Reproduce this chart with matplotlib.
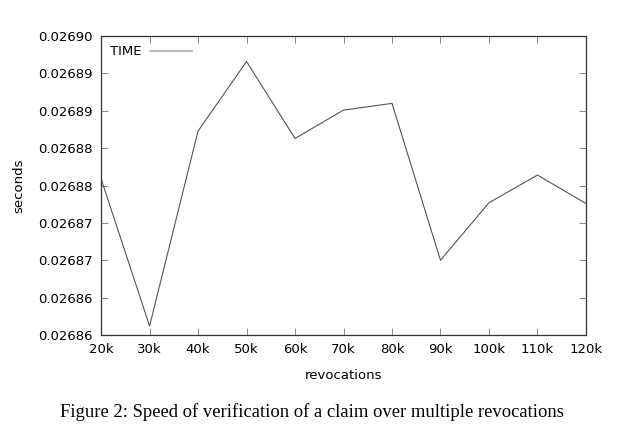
import matplotlib
matplotlib.use('Agg')
import matplotlib.pyplot as plt

# revocations vs verification time (seconds)
revocations = [20, 30, 40, 50, 60, 70, 80, 90, 100, 110, 120]
seconds = [0.0268759, 0.0268562, 0.0268823, 0.0268916, 0.0268813, 0.0268851,
           0.0268860, 0.0268650, 0.0268727, 0.0268764, 0.0268726]

x_labels = ['20k', '30k', '40k', '50k', '60k', '70k', '80k', '90k', '100k', '110k', '120k']
y_ticks = [0.026855, 0.02686, 0.026865, 0.02687, 0.026875, 0.02688, 0.026885, 0.02689, 0.026895]
y_labels = ['0.02686', '0.02686', '0.02687', '0.02687', '0.02688',
            '0.02688', '0.02689', '0.02689', '0.02690']

plt.rcParams['font.family'] = ['DejaVu Sans']

fig = plt.figure(figsize=(6.24, 4.30), dpi=100)
ax = fig.add_axes([0.162, 0.221, 0.777, 0.695])

ax.plot(revocations, seconds, color='#555555', lw=0.8, label='TIME')

ax.set_xlim(20, 120)
ax.set_ylim(0.026855, 0.026895)
ax.set_xticks(revocations)
ax.set_xticklabels(x_labels)
ax.set_yticks(y_ticks)
ax.set_yticklabels(y_labels)

ax.tick_params(direction='in', length=5, width=0.6, color='#777777',
               top=True, right=True, labelsize=9.5, pad=6)
for s in ax.spines.values():
    s.set_linewidth(0.9)
    s.set_color('#333333')

ax.set_xlabel('revocations', fontsize=9.5, labelpad=9)
ax.set_ylabel('seconds', fontsize=9.5, labelpad=9)

leg = ax.legend(loc='upper left', frameon=False, fontsize=9.5,
                markerfirst=False, handlelength=3.2, handletextpad=0.6,
                borderaxespad=0.3)
for h in leg.get_lines():
    h.set_color('#aaaaaa')
    h.set_linewidth(1.2)

fig.text(0.5, 0.042, 'Figure 2: Speed of verification of a claim over multiple revocations',
         ha='center', va='center', family='Liberation Serif', fontsize=13.4)

fig.savefig('out.png', dpi=100)
